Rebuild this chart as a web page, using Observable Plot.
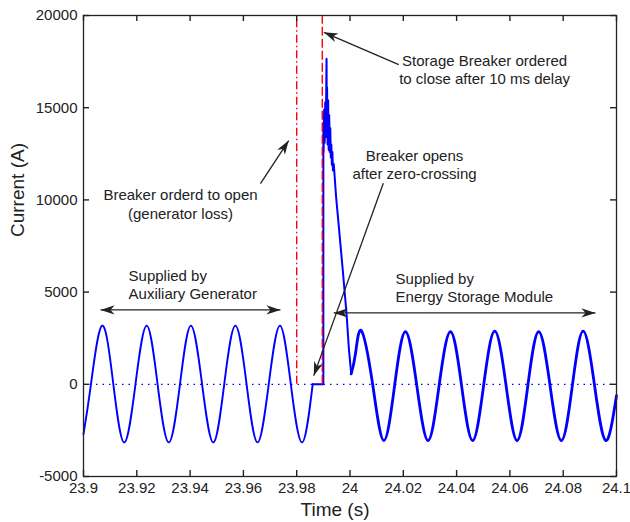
<!DOCTYPE html>
<html>
<head>
<meta charset="utf-8">
<script src="https://cdn.jsdelivr.net/npm/d3@7"></script>
<script src="https://cdn.jsdelivr.net/npm/@observablehq/plot@0.6"></script>
<style>
  html, body { margin: 0; padding: 0; background: #fff; }
  svg { display: block; }
</style>
</head>
<body>
<div id="chart"></div>
<script>
// ---- tick values & labels ----
const xTicks = [23.9, 23.92, 23.94, 23.96, 23.98, 24, 24.02, 24.04, 24.06, 24.08, 24.1];
const xTickLabels = ["23.9", "23.92", "23.94", "23.96", "23.98", "24", "24.02", "24.04", "24.06", "24.08", "24.1"];
const yTicks = [-5000, 0, 5000, 10000, 15000, 20000];
const yTickLabels = ["-5000", "0", "5000", "10000", "15000", "20000"];

// ---- current supplied by the auxiliary generator (peaks, troughs, zero crossings) ----
const genTime = [23.9, 23.9028, 23.9070, 23.9112, 23.9153, 23.9195, 23.9237, 23.9278, 23.9320, 23.9362,
  23.9403, 23.9445, 23.9487, 23.9528, 23.9570, 23.9612, 23.9653, 23.9695, 23.9737, 23.9778, 23.9820, 23.9860];
const genCurrent = [-2700, 0, 3180, 0, -3150, 0, 3180, 0, -3150, 0,
  3180, 0, -3150, 0, 3180, 0, -3150, 0, 3180, 0, -3150, 0];

// ---- breaker open (zero) then storage breaker closing transient ----
const spikeTime = [23.9860, 23.9900, 23.9900, 23.9901, 23.9903, 23.9905, 23.9907, 23.9909, 23.9911, 23.9912,
  23.9913, 23.9914, 23.9916, 23.9918, 23.9920, 23.9922, 23.9924, 23.9926, 23.9928, 23.9930,
  23.9932, 23.9934, 23.9936, 23.9939, 23.9948, 23.9956, 23.9973, 23.9987, 23.9996, 24.00045];
const spikeCurrent = [0, 0, 14200, 12600, 14900, 13100, 15300, 13400, 16200, 17650,
  13800, 16100, 13000, 15400, 12700, 14600, 12600, 13900, 12300, 13000,
  11900, 12600, 11600, 11950, 10140, 8880, 6170, 3830, 1900, 570];

// ---- current supplied by the energy storage module ----
const storeTime = [24.00045, 24.0021, 24.0043, 24.0085, 24.0127, 24.0168, 24.0208, 24.0250, 24.0293, 24.0335,
  24.0377, 24.0418, 24.0460, 24.0502, 24.0543, 24.0585, 24.0627, 24.0668, 24.0708, 24.0750,
  24.0793, 24.0835, 24.0875, 24.0917, 24.0959, 24.1];
const storeCurrent = [570, 1700, 2900, 0, -3050, 0, 2850, 0, -3050, 0,
  2850, 0, -3050, 0, 2880, 0, -3050, 0, 2850, 0,
  -3050, 0, 2880, 0, -3050, -610];

// ---- breaker events ----
const openOrderTime = [23.98];
const closeOrderTime = [23.9896];

// ---- annotations (centred) ----
const noteText = ["Storage Breaker ordered\nto close after 10 ms delay", "Breaker orderd to open\n(generator loss)",
  "Breaker opens\nafter zero-crossing"];
const noteX = [24.0505, 23.9364, 24.0242];
const noteY = [17100, 9800, 11950];
// ---- annotations (left aligned) ----
const spanText = ["Supplied by\nAuxiliary Generator", "Supplied by\nEnergy Storage Module"];
const spanTextX = [23.9169, 24.0171];
const spanTextY = [5400, 5260];

const arrowX1 = [24.0183, 23.9664, 24.0125];
const arrowY1 = [17340, 10880, 10900];
const arrowX2 = [23.9902, 23.9770, 23.9864];
const arrowY2 = [19090, 13220, 470];

const spanX1 = [23.9064, 23.9939];
const spanX2 = [23.9739, 24.0921];
const spanY = [4035, 3870];

function headMarker(color) {
  const m = d3.create("svg:marker")
    .attr("viewBox", "-14 -5 14 10")
    .attr("markerWidth", 14).attr("markerHeight", 10)
    .attr("markerUnits", "userSpaceOnUse")
    .attr("orient", "auto-start-reverse")
    .attr("refX", 0).attr("refY", 0)
    .attr("overflow", "visible");
  m.append("path").attr("d", "M0,0L-14,-4.6L-10,0L-14,4.6Z").attr("fill", color).attr("stroke", "none");
  return m.node();
}

const ink = "#222";
const W = 630, H = 522, ML = 83, MR = 14, MT = 15, MB = 46, TICK = 6;
const frameW = W - ML - MR, frameH = H - MT - MB;

function build(marker) {
  return Plot.plot({
    width: W, height: H,
    marginLeft: ML, marginRight: MR, marginTop: MT, marginBottom: MB,
    style: {fontFamily: "'Liberation Sans', Arial, sans-serif", fontSize: "15px", color: ink, background: "#fff"},
    x: {domain: [23.9, 24.1]},
    y: {domain: [-5000, 20000]},
    marks: [
      Plot.ruleY([0], {stroke: "#0000ff", strokeWidth: 1.3, strokeDasharray: "1.5,5"}),
      Plot.line(genCurrent, {x: genTime, y: genCurrent, curve: "natural", stroke: "#0000ff", strokeWidth: 1.9}),
      Plot.line(spikeCurrent, {x: spikeTime, y: spikeCurrent, stroke: "#0000ff", strokeWidth: 2}),
      Plot.line(storeCurrent, {x: storeTime, y: storeCurrent, curve: "natural", stroke: "#0000ff", strokeWidth: 2.8}),
      Plot.ruleX(openOrderTime, {y1: 0, y2: 20000, stroke: "#ff0000", strokeWidth: 1.4, strokeDasharray: "8,3,1.5,3"}),
      Plot.ruleX(closeOrderTime, {y1: 0, y2: 20000, stroke: "#ff0000", strokeWidth: 1.4, strokeDasharray: "9,3"}),
      Plot.frame({stroke: ink, strokeWidth: 1.3}),
      // tick labels
      Plot.axisX({ticks: xTicks, tickSize: 0, tickPadding: 6, label: null, fill: ink,
        tickFormat: (d, i) => xTickLabels[i], fontSize: 15}),
      Plot.axisY({ticks: yTicks, tickSize: 0, tickPadding: 6, label: null, fill: ink,
        tickFormat: (d, i) => yTickLabels[i], fontSize: 15}),
      // inward ticks on all four sides
      Plot.tickX(xTicks, {x: d => d, insetTop: frameH - TICK, stroke: ink, strokeWidth: 1.4}),
      Plot.tickX(xTicks, {x: d => d, insetBottom: frameH - TICK, stroke: ink, strokeWidth: 1.4}),
      Plot.tickY(yTicks, {y: d => d, insetRight: frameW - TICK, stroke: ink, strokeWidth: 1.4}),
      Plot.tickY(yTicks, {y: d => d, insetLeft: frameW - TICK, stroke: ink, strokeWidth: 1.4}),
      Plot.text(["Time (s)"], {frameAnchor: "bottom", dy: 33, dx: -15, fontSize: 19, fill: ink, lineAnchor: "middle"}),
      Plot.text(["Current (A)"], {frameAnchor: "left", dx: -66, dy: -9, rotate: -90, fontSize: 19, fill: ink, lineAnchor: "middle"}),
      Plot.link(arrowX1, {x1: arrowX1, y1: arrowY1, x2: arrowX2, y2: arrowY2, stroke: ink, strokeWidth: 1.3, markerEnd: marker}),
      Plot.link(spanX1, {x1: spanX1, y1: spanY, x2: spanX2, y2: spanY, stroke: ink, strokeWidth: 1.3, markerStart: marker, markerEnd: marker}),
      Plot.text(noteText, {x: noteX, y: noteY, text: noteText, textAnchor: "middle",
        lineAnchor: "middle", lineHeight: 1.25, fontSize: 15, fill: ink}),
      Plot.text(spanText, {x: spanTextX, y: spanTextY, text: spanText, textAnchor: "start",
        lineAnchor: "middle", lineHeight: 1.2, fontSize: 15, fill: ink})
    ]
  });
}

let chart;
try { chart = build(headMarker); } catch (e) { chart = build("arrow"); }
document.getElementById("chart").appendChild(chart);
</script>
</body>
</html>
